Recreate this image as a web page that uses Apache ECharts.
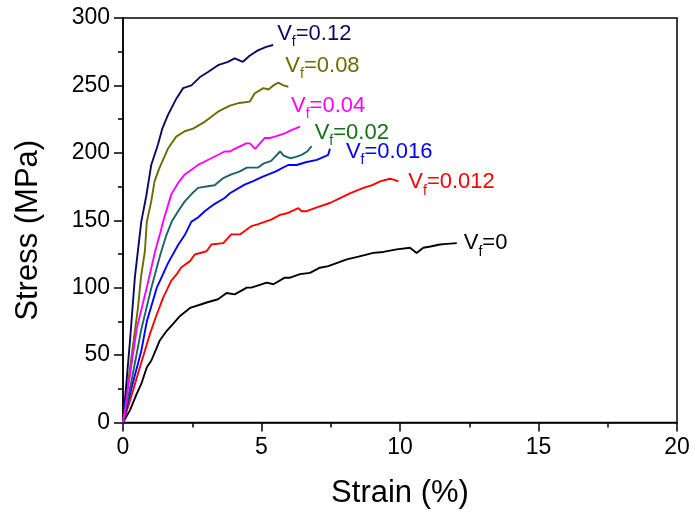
<!DOCTYPE html>
<html>
<head>
<meta charset="utf-8">
<script src="https://cdn.jsdelivr.net/npm/echarts@6/dist/echarts.min.js"></script>
<style>
html,body{margin:0;padding:0;background:#fff;}
#chart{width:694px;height:518px;}
</style>
</head>
<body>
<div id="chart"></div>
<script>
// Volume fractions (legend text) and curve data [strain %, stress MPa]
const vfLabels = ['0', '0.012', '0.016', '0.02', '0.08', '0.12', '0.04'];

const curve_0 = [[0,0],[0.25,9],[0.49,21],[0.66,28.6],[0.86,41],[1.02,45.8],[1.22,55.6],[1.32,60.6],[1.58,68],[1.8,73],[2.06,79],[2.42,85],[2.83,87.7],[3.02,89],[3.43,91.4],[3.74,96],[4.03,95],[4.47,100],[4.63,100],[5.19,103.7],[5.43,102.5],[5.84,107.4],[6.03,107.4],[6.39,110],[6.75,111],[7.11,114.8],[7.41,116],[8.08,121],[8.5,123],[9.04,125.8],[9.4,126.5],[9.88,128.4],[10.36,129.6],[10.6,125.8],[10.84,129.6],[11.1,130.5],[11.44,132],[11.7,132.5],[12.05,133]];
const curve_012 = [[0,0],[0.25,16],[0.61,41],[0.97,65.5],[1.2,79],[1.45,92.6],[1.74,105],[1.94,110],[2.1,115],[2.42,119.7],[2.59,124.6],[3.02,127],[3.19,132],[3.62,133],[3.91,139.5],[4.22,139.5],[4.63,145.6],[4.83,146.8],[5.35,150.5],[5.67,154],[5.96,155.4],[6.33,159],[6.45,156.7],[6.63,156.7],[7.0,159.5],[7.47,162.8],[7.8,166],[8.19,170],[8.68,174],[9.0,176],[9.28,178.8],[9.64,180.8],[9.8,180],[9.94,178.8]];
const curve_016 = [[0,0],[0.3,25],[0.66,53],[0.86,75],[1.22,100],[1.4,108],[1.62,118],[2.0,132],[2.23,139],[2.47,149],[2.71,152],[2.95,156.7],[3.3,162],[3.67,166.5],[3.86,170],[4.39,176.4],[4.7,179],[5.07,182.5],[5.5,186],[5.96,191],[6.27,191],[6.6,193],[7.0,194.8],[7.41,198.5],[7.47,203]];
const curve_02 = [[0,0],[0.3,30],[0.65,68],[1.0,98],[1.34,124],[1.55,138],[1.76,149],[2.0,157],[2.23,164],[2.5,170],[2.71,174],[3.0,175],[3.31,176],[3.6,181],[3.91,184],[4.2,186],[4.47,189],[4.87,189],[5.07,192],[5.35,194],[5.67,201],[5.8,198],[6.03,196],[6.25,197],[6.45,198.5],[6.65,201],[6.81,205]];
const curve_04 = [[0,0],[0.25,35],[0.5,70],[0.88,102],[1.16,127],[1.35,141],[1.45,149],[1.74,169],[2.0,178],[2.23,184],[2.71,191],[3.19,196],[3.67,201],[3.86,201],[4.03,203],[4.45,207],[4.58,207],[4.77,203],[5.11,211],[5.31,211],[5.48,212],[5.84,214.5],[6.1,217],[6.39,219.5]];
const curve_08 = [[0,0],[0.25,40],[0.54,85],[0.65,108],[0.79,127],[0.86,149],[1.02,164],[1.14,179],[1.32,189],[1.62,203],[1.92,212],[2.23,216],[2.53,218],[2.95,223],[3.43,230.5],[3.86,235],[4.2,237],[4.58,238],[4.75,244],[5.07,248],[5.25,247],[5.43,250],[5.6,252],[5.79,250],[5.97,249]];
const curve_12 = [[0,0],[0.25,60],[0.43,108],[0.66,149],[0.84,168],[1.02,191],[1.26,206],[1.42,218],[1.62,228],[1.92,240],[2.17,248],[2.47,250],[2.77,256],[3.07,260],[3.43,265],[3.79,267.5],[4.03,270],[4.33,267.5],[4.57,272],[4.87,276],[5.17,278.6],[5.42,280]];

const curves = [curve_0, curve_012, curve_016, curve_02, curve_08, curve_12, curve_04];

const xTicks = { min: 0, max: 20, interval: 5 };
const yTicks = { min: 0, max: 300, interval: 50 };

// styles
const lineColors = ['#000000', '#ff0000', '#0000ff', '#1a6464', '#6b6b00', '#0a0a64', '#ff00ff'];
const labelColors = ['#000000', '#ff0000', '#0000ff', '#137013', '#6b6b00', '#0a0a64', '#ff00ff'];
const labelOffsets = [[7, 0], [10, 1], [16, 3], [3, -13], [-3, -21], [4, -11], [-9, -21]];

const FONT = "'Liberation Sans', Arial, Helvetica, sans-serif";

const chart = echarts.init(document.getElementById('chart'), null, { renderer: 'canvas' });

const series = curves.map((c, i) => ({
  type: 'line',
  data: c,
  showSymbol: false,
  symbol: 'none',
  animation: false,
  lineStyle: { color: lineColors[i], width: 1.9 },
  itemStyle: { color: lineColors[i] },
  z: 2 + i,
  endLabel: {
    show: true,
    distance: 0,
    offset: labelOffsets[i],
    formatter: () => '{v|V}{s|f}{v|=' + vfLabels[i] + '}',
    rich: {
      v: { fontFamily: FONT, fontSize: 22, color: labelColors[i] },
      s: { fontFamily: FONT, fontSize: 14, color: labelColors[i], padding: [17, 0, 0, 0] }
    }
  }
}));

chart.setOption({
  backgroundColor: '#ffffff',
  animation: false,
  grid: { left: 123, right: 17, top: 18, bottom: 95.5, show: true, borderColor: '#000', borderWidth: 1.5 },
  xAxis: {
    type: 'value',
    min: xTicks.min, max: xTicks.max, interval: xTicks.interval,
    name: 'Strain (%)',
    nameLocation: 'middle',
    nameGap: 55,
    nameTextStyle: { fontFamily: FONT, fontSize: 31, color: '#000' },
    axisLine: { show: true, onZero: false, lineStyle: { color: '#000', width: 1.5 } },
    axisTick: { show: true, inside: false, length: 9, lineStyle: { color: '#000', width: 1.5 } },
    minorTick: { show: true, splitNumber: 2, length: 5, lineStyle: { color: '#000', width: 1.5 } },
    splitLine: { show: false },
    axisLabel: { fontFamily: FONT, fontSize: 23, color: '#000', margin: 14 }
  },
  yAxis: {
    type: 'value',
    min: yTicks.min, max: yTicks.max, interval: yTicks.interval,
    name: 'Stress (MPa)',
    nameLocation: 'middle',
    nameGap: 79,
    nameTextStyle: { fontFamily: FONT, fontSize: 31, color: '#000', padding: [0, 20, 0, 0] },
    axisLine: { show: true, onZero: false, lineStyle: { color: '#000', width: 1.5 } },
    axisTick: { show: true, inside: false, length: 9, lineStyle: { color: '#000', width: 1.5 } },
    minorTick: { show: true, splitNumber: 2, length: 5, lineStyle: { color: '#000', width: 1.5 } },
    splitLine: { show: false },
    axisLabel: { fontFamily: FONT, fontSize: 23, color: '#000', margin: 13 }
  },
  series: series
});
</script>
</body>
</html>
